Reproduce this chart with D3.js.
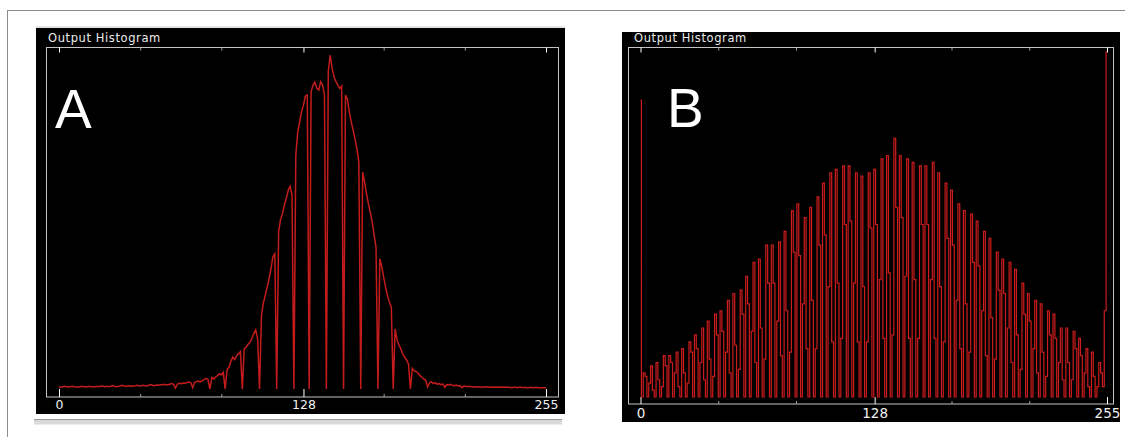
<!DOCTYPE html>
<html>
<head>
<meta charset="utf-8">
<script src="https://cdn.jsdelivr.net/npm/d3@7"></script>
<style>
  body { margin: 0; background: #fff; }
  svg { display: block; }
</style>
</head>
<body>
<svg width="1125" height="437"></svg>
<script>
// histogram A: output levels 0..255 (relative counts, peak = 100)
var countsA = [
  0.5,0.6,0.7,0.8,0.7,0.6,0.7,0.8,0.7,0.6,
  0.6,0.7,0.8,0.7,0.6,0.7,0.8,0.7,0.6,0.7,
  0.8,0.7,0.9,0.8,0.7,0.8,0.7,0.8,1.0,0.8,
  0.7,0.8,0.9,1.1,0.9,0.8,0.9,1.0,0.9,0.8,
  1.0,1.1,0.9,1.0,1.1,1.0,0.9,1.1,1.3,1.1,
  1.0,1.2,1.1,1.3,1.2,1.4,1.3,1.2,1.4,1.6,
  1.4,0.3,1.5,1.7,1.6,1.8,1.7,1.9,2.1,1.9,
  0.4,2.0,2.2,2.4,2.1,2.5,2.8,3.2,2.9,0,
  3.4,3.0,3.6,4.0,4.6,4.2,5.0,0,5.8,6.5,
  8.2,9.6,8.8,10.0,10.5,11.2,0,12.0,12.6,13.4,
  14.0,15.2,16.6,17.7,15.0,0,22.0,25.8,28.0,30.5,
  33.0,36.0,39.6,40.5,0,47.0,50.8,52.5,55.0,57.0,
  59.5,60.7,58.0,0,70.0,76.9,80.0,83.0,85.0,87.7,
  88.0,0,89.0,91.0,91.9,90.0,89.5,92.0,91.0,88.0,
  0,95.0,100,96.0,93.5,92.0,91.0,90.0,90.7,0,
  88.0,86.8,83.0,80.0,77.5,74.8,72.0,68.0,0,64.9,
  62.0,58.5,55.5,52.9,50.0,46.0,42.5,0,39.0,36.6,
  33.5,30.5,28.0,26.0,24.6,0,18.0,14.7,13.2,12.0,
  10.5,9.5,8.7,7.5,0,6.2,5.5,5.2,4.8,4.0,
  3.5,3.0,2.6,0.6,1.8,2.2,1.6,1.9,1.4,1.6,
  1.3,1.5,0.5,1.3,1.2,1.4,1.1,1.0,1.2,0.9,
  1.0,0.4,0.9,0.8,0.7,0.8,0.7,0.6,0.7,0.6,
  0.7,0.6,0.5,0.6,0.7,0.6,0.5,0.6,0.5,0.6,
  0.5,0.6,0.5,0.5,0.6,0.5,0.5,0.4,0.5,0.5,
  0.4,0.5,0.5,0.4,0.5,0.4,0.4,0.5,0.4,0.4,
  0.5,0.4,0.4,0.4,0.4,0.4
];

// histogram B: output levels 0..255 (relative counts, level 255 = 100)
var countsB = [
  86,0,
  7,6,0,4,9,2,0,10,5,0,3,12,9,0,
  12,10,0,7,13,3,0,14,7,0,4,16,13,0,
  18,14,0,10,20,5,0,22,11,0,6,24,18,0,
  25,19,0,13,28,7,0,30,15,0,8,31,24,0,
  35,27,0,19,39,10,0,40,20,0,11,44,33,0,
  44,33,0,22,45,12,0,48,25,0,13,54,42,0,
  56,41,0,27,52,14,0,55,28,0,14,58,44,0,
  62,47,0,32,65,16,0,66,33,0,17,67,50,0,
  67,51,0,33,65,16,0,64,32,0,16,65,49,0,
  66,50,0,34,69,17,0,70,36,0,18,75,55,0,
  70,52,0,35,69,17,0,68,34,0,17,67,50,0,
  67,50,0,34,68,17,0,65,32,0,16,62,46,0,
  60,44,0,28,56,14,0,54,27,0,13,53,39,0,
  51,38,0,25,48,12,0,46,23,0,11,42,31,0,
  40,30,0,20,39,10,0,37,18,0,8,33,24,0,
  30,22,0,14,28,7,0,27,13,0,6,25,18,0,
  24,17,0,10,20,5,0,20,10,0,5,19,14,0,
  17,12,0,7,14,3,0,13,6,0,3,10,7,3,
  25,100
];

var tickValues = [0, 42.5, 85, 128, 170, 212.5, 255];
var labelValues = [0, 128, 255];
var majorTicks = [0, 128, 255];
var panelNames = ["A", "B"];
var title = "Output Histogram";

var svg = d3.select("svg");

// outer grey border of the figure
svg.append("rect")
  .attr("x", 7.5).attr("y", 10.5)
  .attr("width", 1140).attr("height", 440)
  .attr("fill", "none")
  .attr("stroke", "#8c8c8c");

var panels = [
  { name: panelNames[0], counts: countsA, curve: d3.curveLinear,
    box: [36, 28, 529, 386], frame: [46.5, 47.5, 512, 349.5],
    xr: [59, 546], yr: [389, 55], labelSize: 12.5, labelPad: 3,
    letter: [55, 128, 55], width: 1.5, color: "#c41c1c" },
  { name: panelNames[1], counts: countsB, curve: d3.curveStep,
    box: [622, 32, 498, 390], frame: [628.5, 47.5, 485, 356.5],
    xr: [640.5, 1107], yr: [397, 52], labelSize: 13.5, labelPad: 4,
    letter: [667, 127, 55], width: 1.2, color: "#cc1c1c" }
];

panels.forEach(function(p) {
  var g = svg.append("g");
  var x = d3.scaleLinear().domain([0, 255]).range(p.xr);
  var y = d3.scaleLinear().domain([0, 100]).range(p.yr);
  var bottom = p.frame[1] + p.frame[3];

  g.append("rect")
    .attr("x", p.box[0]).attr("y", p.box[1])
    .attr("width", p.box[2]).attr("height", p.box[3])
    .attr("fill", "#000");

  g.append("text")
    .attr("x", p.box[0] + 12).attr("y", 41.5)
    .attr("fill", "#ececec")
    .attr("font-family", "DejaVu Sans")
    .attr("font-size", 11.5)
    .attr("letter-spacing", 0.6)
    .text(title);

  g.append("rect")
    .attr("x", p.frame[0]).attr("y", p.frame[1])
    .attr("width", p.frame[2]).attr("height", p.frame[3])
    .attr("fill", "none")
    .attr("stroke", "#c4c4c4");

  // ticks along the top edge
  var topAxis = g.append("g")
    .attr("transform", "translate(0," + p.frame[1] + ")")
    .call(d3.axisBottom(x).tickValues(tickValues).tickSize(3).tickFormat(""));
  topAxis.select(".domain").remove();
  topAxis.selectAll(".tick line")
    .attr("stroke", function(d) { return majorTicks.indexOf(d) >= 0 ? "#fff" : "#a0a0a0"; })
    .attr("y2", function(d) { return majorTicks.indexOf(d) >= 0 ? 5 : 3; });

  // ticks along the bottom edge
  var botAxis = g.append("g")
    .attr("transform", "translate(0," + bottom + ")")
    .call(d3.axisTop(x).tickValues(tickValues).tickSize(3).tickFormat(""));
  botAxis.select(".domain").remove();
  botAxis.selectAll(".tick line")
    .attr("stroke", function(d) { return majorTicks.indexOf(d) >= 0 ? "#fff" : "#a0a0a0"; })
    .attr("y2", function(d) { return majorTicks.indexOf(d) >= 0 ? -(bottom - p.yr[0]) : -3; });

  var labels = g.append("g")
    .attr("transform", "translate(0," + bottom + ")")
    .call(d3.axisBottom(x).tickValues(labelValues).tickSize(0).tickPadding(p.labelPad).tickFormat(d3.format("d")));
  labels.select(".domain").remove();
  labels.attr("color", "#f0f0f0")
    .attr("font-family", "DejaVu Sans")
    .attr("font-size", p.labelSize);

  var line = d3.line()
    .curve(p.curve)
    .x(function(d, i) { return x(i); })
    .y(function(d) { return y(d); });

  g.append("path")
    .datum(p.counts)
    .attr("d", line)
    .attr("fill", "none")
    .attr("stroke", p.color)
    .attr("stroke-width", p.width);

  g.append("text")
    .attr("x", p.letter[0]).attr("y", p.letter[1])
    .attr("fill", "#fff")
    .attr("font-family", "Liberation Sans")
    .attr("font-size", p.letter[2])
    .text(p.name);
});

// light strip above panel A and scroll bar under it
svg.append("rect").attr("x", 36).attr("y", 26).attr("width", 529).attr("height", 2).attr("fill", "#e4e4e4");
svg.append("rect").attr("x", 34).attr("y", 419).attr("width", 528).attr("height", 1.5).attr("fill", "#9a9a9a");
svg.append("rect").attr("x", 34).attr("y", 420.5).attr("width", 528).attr("height", 4).attr("fill", "#dadada");
</script>
</body>
</html>
